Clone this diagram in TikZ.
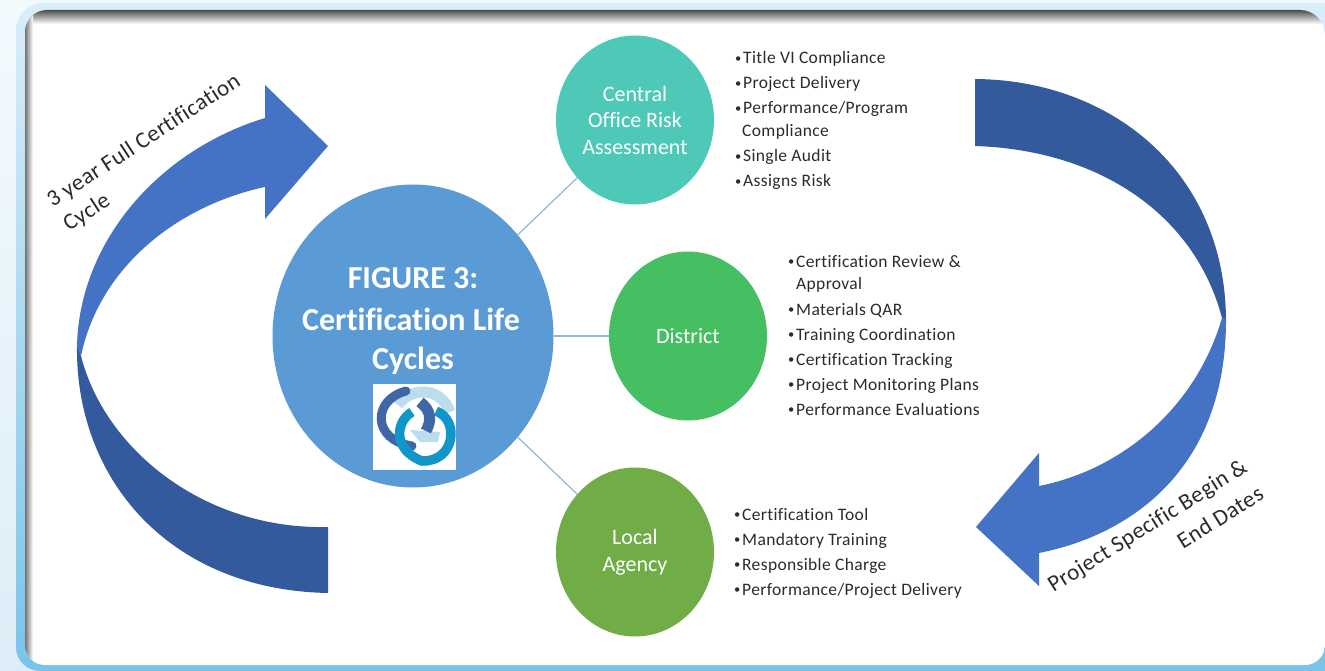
\documentclass[tikz,border=0pt]{standalone}
\usepackage{fontspec}
\setmainfont[Ligatures=NoCommon]{Carlito}
\newfontfamily\widefont[LetterSpace=2,Ligatures=NoCommon]{Carlito}
\usetikzlibrary{shapes.geometric}
\definecolor{arrowlight}{HTML}{4472C4}
\definecolor{arrowdark}{HTML}{345A9E}
\definecolor{bigblue}{HTML}{5B9BD5}
\definecolor{tealc}{HTML}{4FC9B7}
\definecolor{greenc}{HTML}{46BE62}
\definecolor{olivec}{HTML}{70AD47}
\definecolor{linkc}{HTML}{8DB8DE}
\definecolor{inkc}{HTML}{2B2B2B}
\definecolor{pagetop}{HTML}{F3FAFE}
\definecolor{pagebot}{HTML}{DCEDF7}
\definecolor{bandtop}{HTML}{D9EEF9}
\definecolor{bandbot}{HTML}{78C3EA}
\definecolor{logolight}{HTML}{BBDDEE}
\definecolor{logoteal}{HTML}{1096C8}
\definecolor{logodark}{HTML}{3F67A8}
\tikzset{
  blob/.style={ellipse,minimum width=158pt,minimum height=169pt,inner sep=0pt,align=center,text=white,font=\fontsize{22}{26.5}\selectfont},
  link/.style={draw=linkc,line width=1.2pt},
  item/.style={anchor=west,inner sep=0pt,yshift=-2pt,text height=12pt,text depth=4pt,text=inkc,font=\widefont\fontsize{17.5}{18}\selectfont},
  curved/.style={anchor=center,inner sep=0pt,text=inkc,font=\widefont\fontsize{23}{25}\selectfont},
  title/.style={anchor=center,inner sep=0pt,text=white,font=\fontsize{32}{36}\selectfont\bfseries},
}
\newcommand{\bul}[1]{\makebox[8pt][l]{\fontsize{12.5}{12.5}\selectfont\raisebox{1.2pt}{\textbullet}}#1}
\begin{document}
\begin{tikzpicture}[x=1pt,y=-1pt]
\useasboundingbox (0,0) rectangle (1325,671);
% page and frame
\shade[top color=pagetop,bottom color=pagebot] (0,0) rectangle (1325,671);
\shade[top color=bandtop,bottom color=bandbot] (16,30) arc[start angle=180,end angle=270,radius=27] -- (1345,3) -- (1345,675) -- (40,675) -- (40,671) arc[start angle=90,end angle=180,radius=24] -- cycle;
\begin{scope}
\clip (25,32) arc[start angle=180,end angle=270,radius=22] -- (1300,10) arc[start angle=-90,end angle=0,radius=25] -- (1325,645) arc[start angle=0,end angle=90,radius=20] -- (45,665) arc[start angle=90,end angle=180,radius=20] -- cycle;
\fill[white] (0,0) rectangle (1325,671);
\shade[top color=black!70,bottom color=white] (0,10) rectangle (1325,24);
\shade[left color=black!55,right color=white] (25,10) rectangle (33,665);
\end{scope}
% cycle arrows
\fill[arrowdark] (77,345) .. controls (75,480) and (170,590) .. (328,593)
  -- (328,527) .. controls (205,530) and (105,450) .. (81,356) -- cycle;
\fill[arrowlight] (77,345) .. controls (80,240) and (160,150) .. (265,118)
  -- (265,85) -- (328,146) -- (265,219) -- (265,187)
  .. controls (180,205) and (100,265) .. (81,356) -- cycle;
\fill[arrowlight] (1222,318) .. controls (1195,410) and (1120,470) .. (1039,486)
  -- (1039,453) -- (976,527) -- (1039,586) -- (1039,553)
  .. controls (1130,535) and (1226,470) .. (1226,320) -- cycle;
\fill[arrowdark] (975,79) .. controls (1110,80) and (1225,170) .. (1226,320)
  -- (1222,318) .. controls (1195,215) and (1100,150) .. (975,146) -- cycle;
% circles
\node[ellipse,fill=bigblue,minimum width=281pt,minimum height=303pt,inner sep=0pt] (big) at (413,336) {};
\node[blob,fill=tealc] (central) at (635,120) {Central\\Office Risk\\Assessment};
\node[blob,fill=greenc,font=\fontsize{22}{25}\selectfont] (district) at (688,336) {District};
\node[blob,fill=olivec] (local) at (635,552) {Local\\Agency};
% connectors
\draw[link] (big.44) -- (central.225);
\draw[link] (big.0) -- (district.180);
\draw[link] (big.-44) -- (local.135);
% title
\node[title] (t1) at (413,278) {FIGURE 3:};
\node[title] (t2) at (411,319) {Certification Life};
\node[title] (t3) at (413,361) {Cycles};
% logo
\fill[white] (373,384) rectangle (456,470);
\draw[line width=11pt,color=logolight] (398,405) .. controls (410,388) and (440,385) .. (450,412);
\fill[logolight] (410,430) -- (440,432) -- (438,442) -- (420,442) -- cycle;
\draw[line width=9pt,color=logodark,line cap=round] (406,391) .. controls (372,400) and (372,440) .. (412,446);
\draw[line width=9.5pt,color=logoteal] (412,412) .. controls (395,422) and (393,450) .. (422,461) .. controls (455,462) and (460,420) .. (436,411);
\draw[line width=11pt,color=logodark] (420,402) .. controls (431,410) and (432,420) .. (426,431);
% list 1
\node[item] (a1) at (735,58) {\bul{Title VI Compliance}};
\node[item] (a2) at (735,83) {\bul{Project Delivery}};
\node[item] (a3) at (735,108) {\bul{Performance/Program}};
\node[item] (a4) at (742,131) {Compliance};
\node[item] (a5) at (735,156) {\bul{Single Audit}};
\node[item] (a6) at (735,181) {\bul{Assigns Risk}};
% list 2
\node[item] (b1) at (788,261) {\bul{Certification Review \&}};
\node[item] (b2) at (796,283) {Approval};
\node[item] (b3) at (788,309) {\bul{Materials QAR}};
\node[item] (b4) at (788,334) {\bul{Training Coordination}};
\node[item] (b5) at (788,359) {\bul{Certification Tracking}};
\node[item] (b6) at (788,384) {\bul{Project Monitoring Plans}};
\node[item] (b7) at (788,409) {\bul{Performance Evaluations}};
% list 3
\node[item] (c1) at (734,514) {\bul{Certification Tool}};
\node[item] (c2) at (734,539) {\bul{Mandatory Training}};
\node[item] (c3) at (734,564) {\bul{Responsible Charge}};
\node[item] (c4) at (734,589) {\bul{Performance/Project Delivery}};
% curved labels
\node[curved,rotate=33] (l1) at (144,141) {3 year Full Certification};
\node[curved,rotate=33] (l2) at (87,213) {Cycle};
\node[curved,rotate=32] (r1) at (1148,527) {Project Specific Begin \&};
\node[curved,rotate=32] (r2) at (1220,517) {End Dates};
\end{tikzpicture}
\end{document}
